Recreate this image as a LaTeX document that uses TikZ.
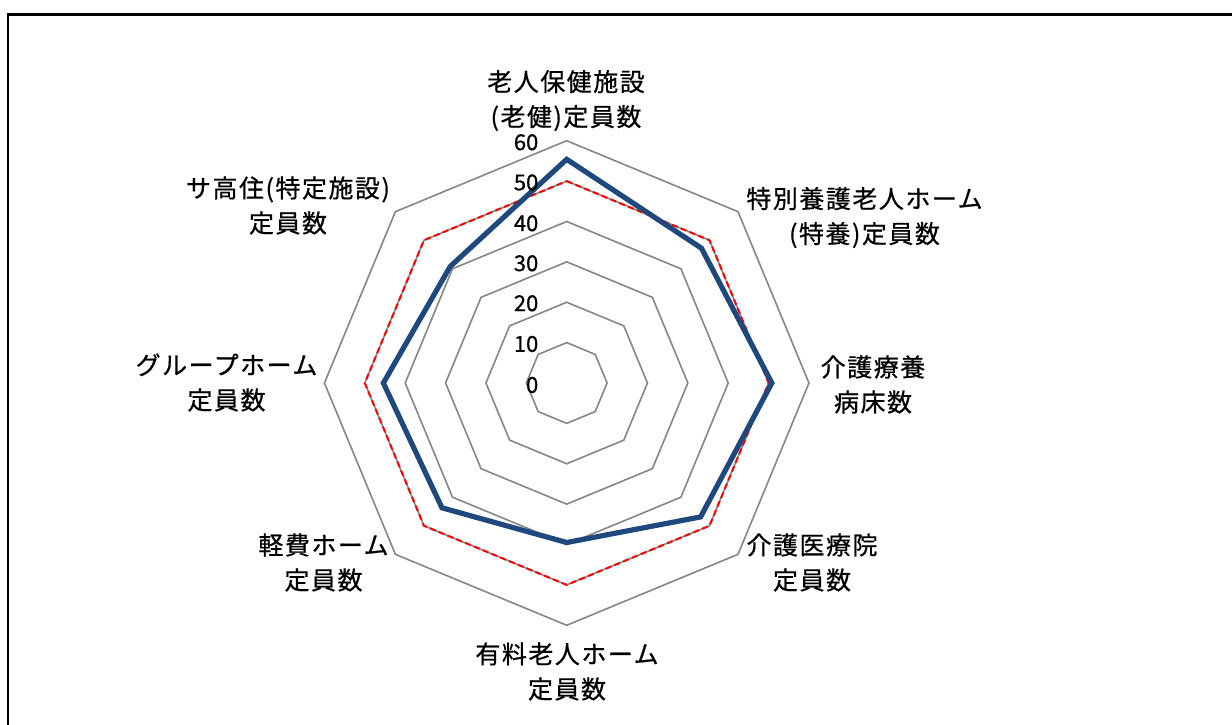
\documentclass[tikz,border=0pt]{standalone}
\usepackage{fontspec}
\newfontfamily\jp[LetterSpace=6,FakeBold=0.6]{Noto Sans CJK JP}
\newfontfamily\jpnum[FakeBold=0.6]{Noto Sans CJK JP}
\definecolor{gridgray}{RGB}{134,134,134}
\definecolor{datablue}{RGB}{31,73,125}
\begin{document}
\begin{tikzpicture}[x=1pt,y=-1pt,
  gridline/.style={draw=gridgray,line width=1.6pt,line join=miter},
  avgline/.style={draw=red,line width=2pt,dash pattern=on 6pt off 3.5pt,line join=miter},
  dataline/.style={draw=datablue,line width=5.2pt,line join=miter},
  axislabel/.style={font=\jp\fontsize{25}{35}\selectfont,align=center,inner sep=0pt,text=black},
  ticklabel/.style={font=\jpnum\fontsize{22}{24}\selectfont,anchor=east,inner sep=0pt,text=black}]
\useasboundingbox (0,0) rectangle (1232,725);
\fill[white] (0,0) rectangle (1232,725);
\begin{scope}
\clip (0,0) rectangle (1232,725);
\draw[black,line width=2.3pt] (7.7,14.5) rectangle (1250,745);
\end{scope}
\def\u{4.038}
\begin{scope}[shift={(566.7,383)}]
  \foreach \k in {1,...,6}{
    \draw[gridline] (-90:{\k*10*\u}) \foreach \a in {-45,0,45,90,135,180,225}{ -- (\a:{\k*10*\u})} -- cycle;
  }
  \draw[avgline] (-90:{50*\u}) \foreach \a in {-45,0,45,90,135,180,225}{ -- (\a:{50*\u})} -- cycle;
  \coordinate (dN)  at (-90:{55.4*\u});
  \coordinate (dNE) at (-45:{47.2*\u});
  \coordinate (dE)  at (0:{50.8*\u});
  \coordinate (dSE) at (45:{46.9*\u});
  \coordinate (dS)  at (90:{39.5*\u});
  \coordinate (dSW) at (135:{43.7*\u});
  \coordinate (dW)  at (180:{45.4*\u});
  \coordinate (dNW) at (225:{40.8*\u});
  \draw[dataline] (dN) -- (dNE) -- (dE) -- (dSE) -- (dS) -- (dSW) -- (dW) -- (dNW) -- cycle;
\end{scope}
\foreach \v/\y in {0/385,10/344,20/303.3,30/263.3,40/223.3,50/182.5,60/142.3}{
  \node[ticklabel] (t\v) at (538.5,\y) {\v};
}
\node[axislabel] (lN)  at (566,100.5) {老人保健施設\\(老健)定員数};
\node[axislabel] (lNE) at (864.5,217.5) {特別養護老人ホーム\\(特養)定員数};
\node[axislabel] (lE)  at (873,384.5) {介護療養\\病床数};
\node[axislabel] (lSE) at (812,562.5) {介護医療院\\定員数};
\node[axislabel] (lS)  at (567,671.5) {有料老人ホーム\\定員数};
\node[axislabel] (lSW) at (323.5,562.5) {軽費ホーム\\定員数};
\node[axislabel] (lW)  at (226.5,382.5) {グループホーム\\定員数};
\node[axislabel] (lNW) at (288,205.5) {サ高住(特定施設)\\定員数};
\end{tikzpicture}
\end{document}
